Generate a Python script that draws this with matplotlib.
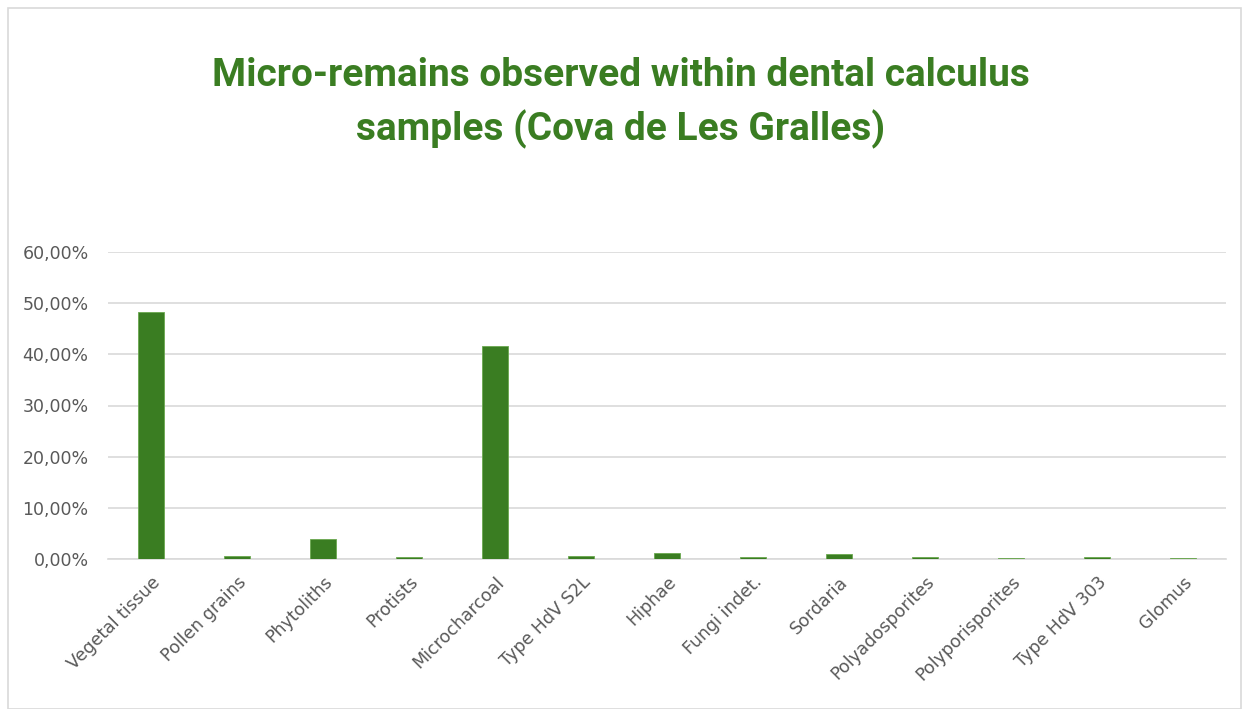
import matplotlib
matplotlib.use("Agg")
import matplotlib.pyplot as plt
from matplotlib.patches import Rectangle
from matplotlib.ticker import FuncFormatter, MultipleLocator

categories = ["Vegetal tissue", "Pollen grains", "Phytoliths", "Protists", "Microcharcoal",
              "Type HdV S2L", "Hiphae", "Fungi indet.", "Sordaria", "Polyadosporites",
              "Polyporisporites", "Type HdV 303", "Glomus"]
values = [48.2, 0.6, 3.9, 0.3, 41.7, 0.6, 1.2, 0.3, 1.0, 0.3, 0.1, 0.3, 0.1]
title = "Micro-remains observed within dental calculus\nsamples (Cova de Les Gralles)"

W, H = 1249, 709
fig = plt.figure(figsize=(W/100, H/100), dpi=100)
fig.patch.set_facecolor("white")
fig.patches.append(Rectangle((8/W, 0), (1241-8)/W, (H-8)/H, transform=fig.transFigure,
                             fill=False, edgecolor="#d9d9d9", linewidth=1.2))

ax = fig.add_axes([108/W, 1-559/H, (1226-108)/W, (559-252)/H])
green = "#3a7d22"
x = range(len(categories))
ax.bar(x, values, width=0.31, color=green, edgecolor="#6aa84f", linewidth=0.6, zorder=3)
ax.set_xlim(-0.5, len(categories)-0.5)
ax.set_ylim(0, 60)
ax.yaxis.set_major_locator(MultipleLocator(10))
ax.yaxis.set_major_formatter(FuncFormatter(lambda v, p: f"{v:.2f}".replace(".", ",") + "%"))
ax.grid(axis="y", color="#d9d9d9", linewidth=1.2, zorder=0)
for s in ["top", "right", "left"]:
    ax.spines[s].set_visible(False)
ax.spines["bottom"].set_color("#d9d9d9")
ax.spines["bottom"].set_linewidth(1.2)
ax.tick_params(axis="both", length=0, colors="#595959", labelsize=12.5)
ax.tick_params(axis="y", pad=14)
ax.set_xticks(list(x))
ax.set_xticklabels(categories, rotation=45, ha="right", rotation_mode="anchor",
                   color="#595959", fontsize=12.5)
ax.tick_params(axis="x", pad=10)

fig.text(621/W, 1-103/H, title, ha="center", va="center", fontsize=28,
         fontweight="bold", color=green, family="Roboto", linespacing=1.5)

fig.savefig("out.png", dpi=100)
